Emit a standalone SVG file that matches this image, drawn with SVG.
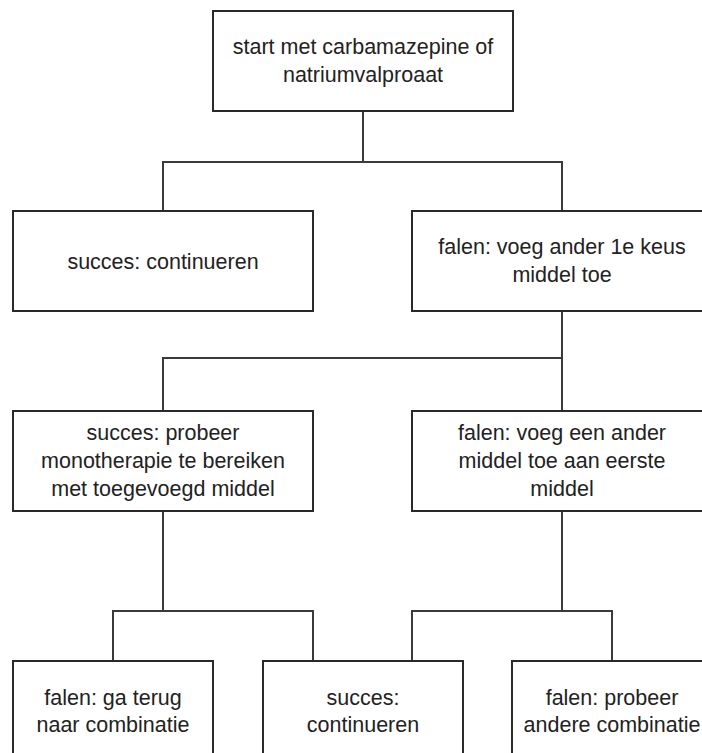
<svg xmlns="http://www.w3.org/2000/svg" width="702" height="753" viewBox="0 0 702 753">
<style>
.box{fill:#fff;stroke:#2a2a2a;stroke-width:2}
.lbl{font-family:"Liberation Sans",Arial,sans-serif;font-size:21.5px;fill:#222;text-anchor:middle}
.con{fill:none;stroke:#3a3a3a;stroke-width:2}
</style>
<rect width="702" height="753" fill="#fff"/>
<g id="connectors">
<path class="con" d="M363 111V162M163 211V162H562V211"/>
<path class="con" d="M562 311V358M163 411V358H562V411"/>
<path class="con" d="M163 511V611M113 661V611H313V661"/>
<path class="con" d="M562 511V611M412 661V611H612V661"/>
</g>
<g id="start"><rect class="box" x="213" y="11" width="300" height="100"/>
<text class="lbl" x="363" y="54">start met carbamazepine of</text><text class="lbl" x="363" y="82">natriumvalproaat</text></g>
<g id="succes1"><rect class="box" x="13" y="211" width="300" height="100"/>
<text class="lbl" x="163" y="269">succes: continueren</text></g>
<g id="falen1"><rect class="box" x="412" y="211" width="300" height="100"/>
<text class="lbl" x="562" y="254">falen: voeg ander 1e keus</text><text class="lbl" x="562" y="282">middel toe</text></g>
<g id="succes2"><rect class="box" x="13" y="411" width="300" height="100"/>
<text class="lbl" x="163" y="440">succes: probeer</text><text class="lbl" x="163" y="468">monotherapie te bereiken</text><text class="lbl" x="163" y="496">met toegevoegd middel</text></g>
<g id="falen2"><rect class="box" x="412" y="411" width="300" height="100"/>
<text class="lbl" x="562" y="440">falen: voeg een ander</text><text class="lbl" x="562" y="468">middel toe aan eerste</text><text class="lbl" x="562" y="496">middel</text></g>
<g id="falen3"><rect class="box" x="13" y="661" width="200" height="100"/>
<text class="lbl" x="113" y="705">falen: ga terug</text><text class="lbl" x="113" y="732">naar combinatie</text></g>
<g id="succes3"><rect class="box" x="263" y="661" width="200" height="100"/>
<text class="lbl" x="363" y="705">succes:</text><text class="lbl" x="363" y="732">continueren</text></g>
<g id="falen4"><rect class="box" x="512" y="661" width="200" height="100"/>
<text class="lbl" x="612" y="705">falen: probeer</text><text class="lbl" x="612" y="732">andere combinatie</text></g>
</svg>
